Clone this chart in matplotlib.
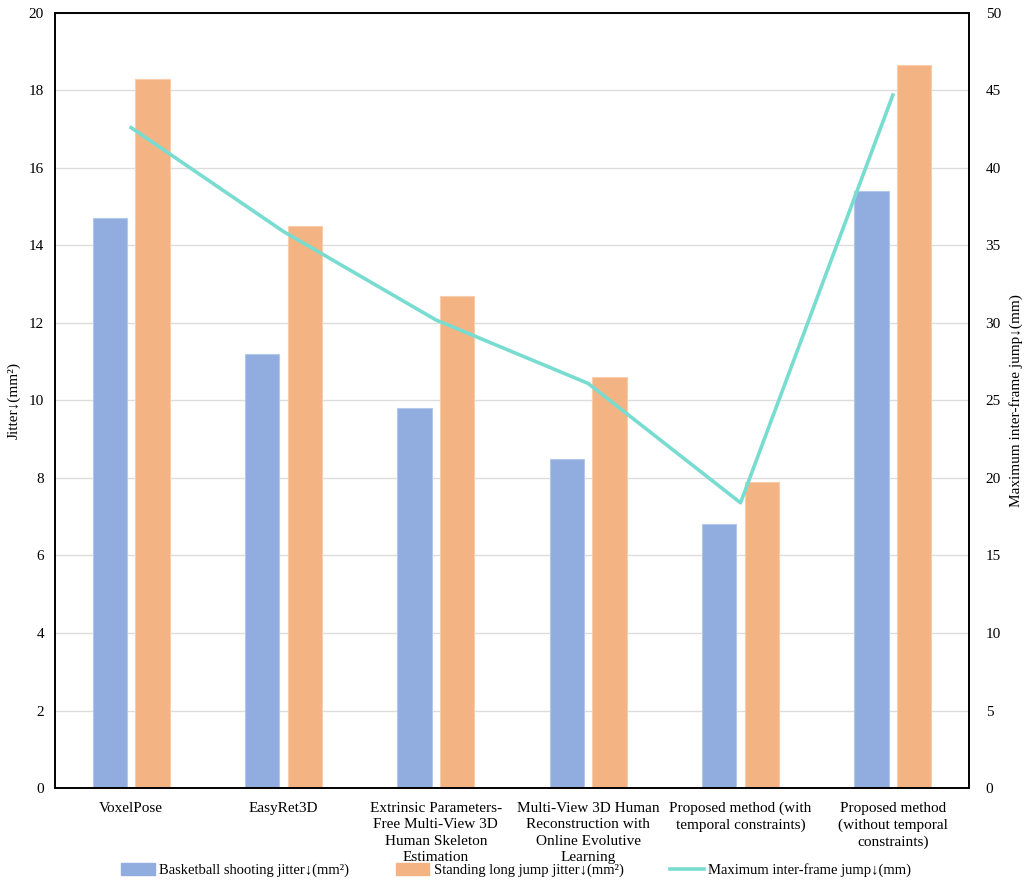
import matplotlib.pyplot as plt
import numpy as np
from matplotlib.patches import Patch
from matplotlib.lines import Line2D

plt.rcParams['font.family'] = ['Liberation Serif', 'DejaVu Serif']

# data
methods = ["VoxelPose",
           "EasyRet3D",
           "Extrinsic Parameters-\nFree Multi-View 3D\nHuman Skeleton\nEstimation",
           "Multi-View 3D Human\nReconstruction with\nOnline Evolutive\nLearning",
           "Proposed method (with\ntemporal constraints)",
           "Proposed method\n(without temporal\nconstraints)"]
basketball = [14.7, 11.2, 9.8, 8.5, 6.8, 15.4]
long_jump = [18.3, 14.5, 12.7, 10.6, 7.9, 18.65]
max_jump = [42.6, 35.9, 30.2, 26.1, 18.4, 44.7]

blue = '#91ADE0'
orange = '#F4B382'
teal = '#79DCD0'

fig = plt.figure(figsize=(10.24, 8.88), dpi=100)
ax = fig.add_axes([0.0537, 0.1126, 0.8926, 0.8728])
ax2 = ax.twinx()

x = np.arange(len(methods))
w = 0.225
ax.bar(x - 0.14, basketball, w, color=blue, edgecolor='#B4C8EC', linewidth=0.8, zorder=2)
ax.bar(x + 0.14, long_jump, w, color=orange, edgecolor='#F8CDAE', linewidth=0.8, zorder=2)
ax2.plot(x, max_jump, color=teal, linewidth=2.6, zorder=3)

ax.set_xlim(-0.5, len(methods) - 0.5)
ax.set_ylim(0, 20)
ax.set_yticks(np.arange(0, 21, 2))
ax2.set_ylim(0, 50)
ax2.set_yticks(np.arange(0, 51, 5))
ax.grid(axis='y', color='#DDDDDD', linewidth=1, zorder=0)
ax.set_axisbelow(True)

ax.set_xticks(x)
ax.set_xticklabels(methods, fontsize=10.5, linespacing=1.35)
ax.tick_params(axis='both', length=0, labelsize=11, pad=8)
ax.tick_params(axis='x', pad=10)
ax2.tick_params(axis='y', length=0, labelsize=11, pad=12)

for a in (ax, ax2):
    for s in a.spines.values():
        s.set_color('black')
        s.set_linewidth(1.2)

ax.set_ylabel('Jitter↓(mm²)', fontsize=11, labelpad=6)
ax2.set_ylabel('Maximum inter-frame jump↓(mm)', fontsize=11, labelpad=6)

handles = [Patch(color=blue), Patch(color=orange), Line2D([], [], color=teal, linewidth=2.6)]
labels = ['Basketball shooting jitter↓(mm²)', 'Standing long jump jitter↓(mm²)',
          'Maximum inter-frame jump↓(mm)']
fig.legend(handles, labels, loc='center', bbox_to_anchor=(0.504, 0.02), ncol=3,
           frameon=False, fontsize=10.5, columnspacing=3.2, handlelength=2.3,
           handletextpad=0.3, handleheight=0.9)

fig.savefig('out.png', dpi=100)
